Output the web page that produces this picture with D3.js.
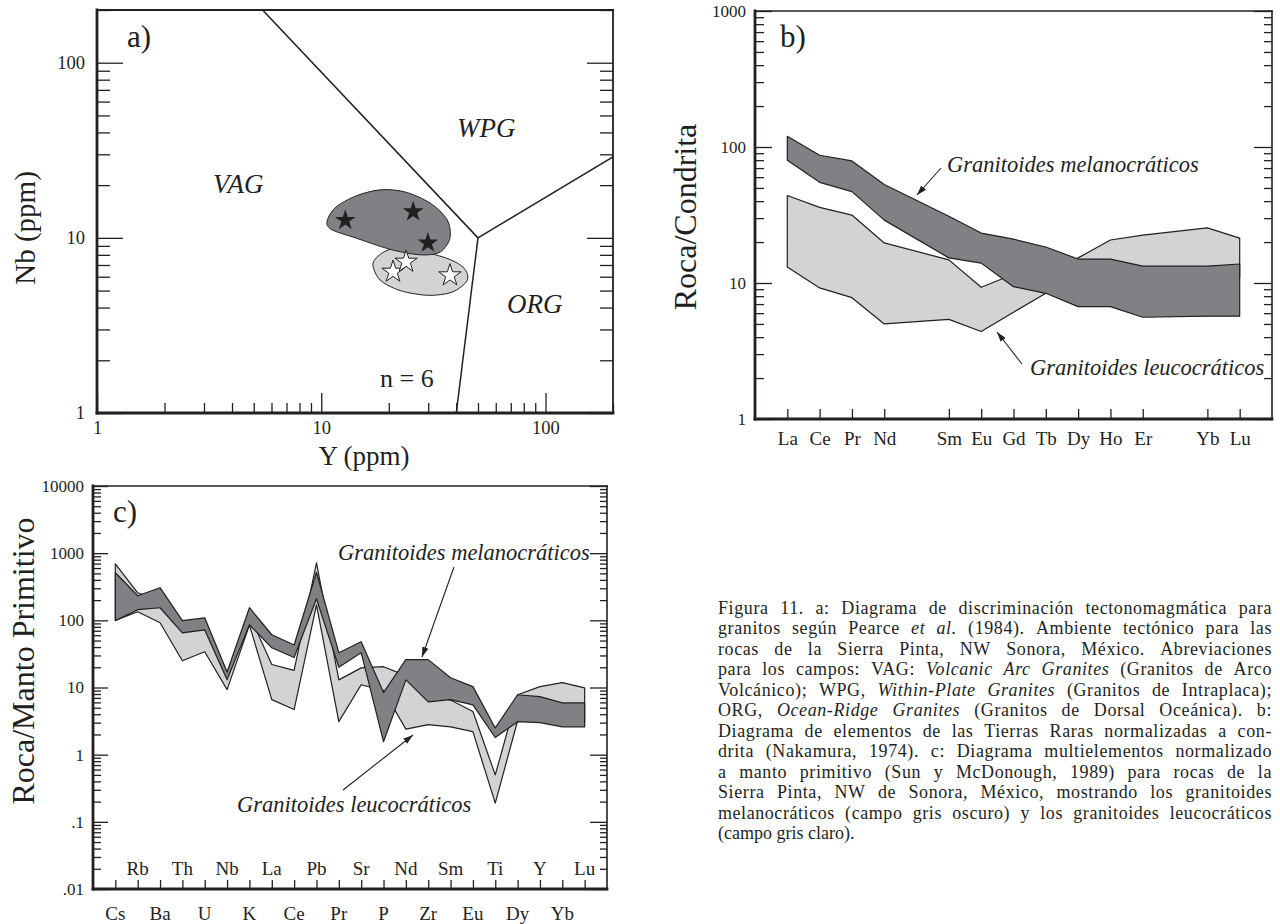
<!DOCTYPE html>
<html>
<meta charset="utf-8">
<head>
<style>
body { margin: 0; background: #fff; }
svg text { font-family: "Liberation Serif", "Times New Roman", serif; fill: #231f20; }
</style>
<script src="https://d3js.org/d3.v7.min.js"></script>
</head>
<body>
<script>
var ink = '#231f20', darkGrey = '#808184', lightGrey = '#d1d3d4';

// ---- a) Nb vs Y, Pearce et al. (1984)
var pearceLines = [
    [[50, 10], [1, 2000]],
    [[50, 10], [1000, 100]],
    [[50, 10], [40, 1]]
];
var fieldNamesA = [
    {t: 'VAG', x: 3.29, y: 18.0},
    {t: 'WPG', x: 40.3, y: 37.7},
    {t: 'ORG', x: 67.4, y: 3.73}
];
// outlines of the two sample fields (Y, Nb)
var melaFieldA = [[10.6,12.3],[11.5,14.8],[14.2,17.3],[18.3,18.8],[23.6,18.3],[30.6,15.8],[36.4,12.7],
                  [37.5,10.0],[33.9,8.3],[27.6,8.0],[20.3,8.6],[14.2,10.0],[11.2,11.1]];
var leucoFieldA = [[17.0,7.1],[18.7,8.2],[21.8,8.75],[27.6,8.4],[36.8,7.6],[43.4,6.7],[44.7,5.7],
                   [38.3,4.9],[29.9,4.7],[22.5,5.0],[18.3,5.75]];
var melaSamplesA = [[12.8,12.6],[25.7,14.1],[29.9,9.35]];
var leucoSamplesA = [[20.9,6.4],[23.9,7.3],[37.5,6.1]];

// ---- b) REE / chondrite
var reeAll = ['La','Ce','Pr','Nd','Pm','Sm','Eu','Gd','Tb','Dy','Ho','Er','Tm','Yb','Lu'];
var reeShown = ['La','Ce','Pr','Nd','Sm','Eu','Gd','Tb','Dy','Ho','Er','Yb','Lu'];
var melaUpperB  = [120, 87, 79, 53, 31, 23.3, 21, 18.4, 15, 15, 13.3, 13.3, 13.8];
var melaLowerB  = [80, 55, 47, 29, 15.3, 14, 9.4, 8.4, 6.7, 6.7, 5.6, 5.7, 5.7];
var leucoUpperB = [44, 36, 31.6, 19.7, 14.8, 9.3, 11.6, 12.9, 15.3, 20.7, 22.5, 25.4, 21.4];
var leucoLowerB = [13.1, 9.2, 7.8, 5.0, 5.4, 4.4, 6.1, 8.4, 10.5, 11, 11, 11, 11];

// ---- c) spider diagram / primitive mantle
var spiderElems = ['Cs','Rb','Ba','Th','U','Nb','K','La','Ce','Pb','Pr','Sr','P','Nd','Zr','Sm','Eu','Ti','Dy','Y','Yb','Lu'];
var melaUpperC  = [511, 232, 306, 99, 109, 17, 154, 61, 43, 520, 33, 48, 8.4, 26, 26, 14, 10.3, 2.5, 7.8, 7.3, 5.9, 5.9];
var melaLowerC  = [99, 144, 154, 65, 72, 13, 86, 39, 28, 210, 20, 33, 1.56, 13, 6.1, 6.6, 5.5, 1.8, 3.1, 3.0, 2.6, 2.6];
var leucoUpperC = [695, 257, 200, 80, 90, 15, 120, 22, 18, 720, 13, 19.6, 20.4, 15, 8, 6.5, 4.4, 0.5, 7.8, 10.3, 11.8, 9.9];
var leucoLowerC = [100, 134, 92, 25, 34, 9.3, 85, 6.6, 4.7, 170, 3.1, 11, 9, 2.4, 2.8, 2.6, 2.2, 0.19, 3.2, 3.2, 3.0, 3.0];

var captionLines = [
    'Figura 11. a: Diagrama de discriminación tectonomagmática para',
    'granitos según Pearce _et al._ (1984). Ambiente tectónico para las',
    'rocas de la Sierra Pinta, NW Sonora, México. Abreviaciones',
    'para los campos: VAG: _Volcanic Arc Granites_ (Granitos de Arco',
    'Volcánico); WPG, _Within-Plate Granites_ (Granitos de Intraplaca);',
    'ORG, _Ocean-Ridge Granites_ (Granitos de Dorsal Oceánica). b:',
    'Diagrama de elementos de las Tierras Raras normalizadas a con-',
    'drita (Nakamura, 1974). c: Diagrama multielementos normalizado',
    'a manto primitivo (Sun y McDonough, 1989) para rocas de la',
    'Sierra Pinta, NW de Sonora, México, mostrando los granitoides',
    'melanocráticos (campo gris oscuro) y los granitoides leucocráticos',
    '(campo gris claro).'
];

var svg = d3.select('body').append('svg').attr('width', 1280).attr('height', 924);
var defs = svg.append('defs');
defs.append('marker').attr('id', 'arrow').attr('viewBox', '0 0 10 10')
    .attr('refX', 10).attr('refY', 5).attr('markerWidth', 10).attr('markerHeight', 10)
    .attr('markerUnits', 'userSpaceOnUse').attr('orient', 'auto')
  .append('path').attr('d', 'M0,1.8 L10,5 L0,8.2 Z').attr('fill', ink);

function logTicks(lo, hi) {
    var major = [], minor = [];
    for (var e = Math.floor(Math.log10(lo)); e <= Math.ceil(Math.log10(hi)); e++) {
        for (var m = 1; m < 10; m++) {
            var v = +(m * Math.pow(10, e)).toPrecision(6);
            if (v < lo * 0.999 || v > hi * 1.001) continue;
            (m === 1 ? major : minor).push(v);
        }
    }
    return {major: major, minor: minor};
}

function styleAxis(a, size) {
    a.select('.domain').remove();
    a.attr('font-family', null).attr('font-size', size).attr('color', ink);
    a.selectAll('line').attr('stroke-width', 1.3);
}

function logAxis(g, scale, orient, pos, majLen, minLen, fmt, size, pad) {
    var t = logTicks(scale.domain()[0], scale.domain()[1]);
    var mk = orient == 'left' ? d3.axisLeft : orient == 'right' ? d3.axisRight : d3.axisBottom;
    var tr = orient == 'bottom' ? 'translate(0,' + pos + ')' : 'translate(' + pos + ',0)';
    var a1 = g.append('g').attr('transform', tr)
        .call(mk(scale).tickValues(t.minor).tickSize(-minLen).tickFormat(''));
    var a2 = g.append('g').attr('transform', tr)
        .call(mk(scale).tickValues(t.major).tickSize(-majLen).tickPadding(pad || 6).tickFormat(fmt || ''));
    styleAxis(a1, size);
    styleAxis(a2, size);
}

function frame(g, x0, x1, y0, y1, thick, thin) {
    var f = g.append('g').attr('stroke', ink).attr('stroke-linecap', 'square');
    f.append('line').attr('x1', x0).attr('x2', x1).attr('y1', y0).attr('y2', y0).attr('stroke-width', thin);
    f.append('line').attr('x1', x1).attr('x2', x1).attr('y1', y0).attr('y2', y1).attr('stroke-width', thin);
    f.append('line').attr('x1', x0).attr('x2', x0).attr('y1', y0).attr('y2', y1).attr('stroke-width', thick);
    f.append('line').attr('x1', x0).attr('x2', x1).attr('y1', y1).attr('y2', y1).attr('stroke-width', thick);
}

function arrow(g, x1, y1, x2, y2) {
    g.append('line').attr('x1', x1).attr('y1', y1).attr('x2', x2).attr('y2', y2)
        .attr('stroke', ink).attr('stroke-width', 1.1).attr('marker-end', 'url(#arrow)');
}

function clip(id, x0, x1, y0, y1) {
    defs.append('clipPath').attr('id', id).append('rect')
        .attr('x', x0).attr('y', y0).attr('width', x1 - x0).attr('height', y1 - y0);
}

function yTitle(g, t, x, y, size) {
    g.append('text').attr('transform', 'translate(' + x + ',' + y + ') rotate(-90)')
        .attr('text-anchor', 'middle').attr('font-size', size).text(t);
}

function italicNote(g, t, x, y) {
    g.append('text').attr('x', x).attr('y', y).attr('font-size', 22.5)
        .attr('font-style', 'italic').text(t);
}

// ================= panel a =================
var gA = svg.append('g');
var xA = d3.scaleLog().domain([1, 200]).range([97, 613]);
var yA = d3.scaleLog().domain([1, 200]).range([413, 10]);
clip('clipA', 97, 613, 10, 413);

var plotA = gA.append('g').attr('clip-path', 'url(#clipA)');
var lineA = d3.line().x(function(d) { return xA(d[0]); }).y(function(d) { return yA(d[1]); });
plotA.selectAll('.pl').data(pearceLines).enter().append('path')
    .attr('d', lineA).attr('fill', 'none').attr('stroke', ink).attr('stroke-width', 1.5);

var blob = d3.line().x(function(d) { return xA(d[0]); }).y(function(d) { return yA(d[1]); })
    .curve(d3.curveCardinalClosed.tension(0.1));
plotA.append('path').attr('d', blob(leucoFieldA)).attr('fill', lightGrey).attr('stroke', ink).attr('stroke-width', 1);
plotA.append('path').attr('d', blob(melaFieldA)).attr('fill', darkGrey).attr('stroke', ink).attr('stroke-width', 1);

var star = d3.symbol().type(d3.symbolStar);
plotA.selectAll('.ms').data(melaSamplesA).enter().append('path')
    .attr('d', star.size(135)())
    .attr('transform', function(d) { return 'translate(' + xA(d[0]) + ',' + yA(d[1]) + ')'; })
    .attr('fill', ink);
plotA.selectAll('.ls').data(leucoSamplesA).enter().append('path')
    .attr('d', star.size(155)())
    .attr('transform', function(d) { return 'translate(' + xA(d[0]) + ',' + yA(d[1]) + ')'; })
    .attr('fill', '#fff').attr('stroke', ink).attr('stroke-width', 1);

gA.selectAll('.fn').data(fieldNamesA).enter().append('text')
    .attr('x', function(d) { return xA(d.x); }).attr('y', function(d) { return yA(d.y); })
    .attr('font-size', 27).attr('font-style', 'italic').text(function(d) { return d.t; });
gA.append('text').attr('x', xA(18.3)).attr('y', yA(1.41)).attr('font-size', 26).text('n = 6');

logAxis(gA, yA, 'left', 97, 26, 13, function(d) { return d; }, 18.5, 12);
logAxis(gA, yA, 'right', 613, 26, 13, '', 18.5);
logAxis(gA, xA, 'bottom', 413, 20, 10, function(d) { return d; }, 18.5, 8);
frame(gA, 97, 613, 10, 413, 2.8, 1.8);
gA.append('text').attr('x', 127).attr('y', 47).attr('font-size', 31).text('a)');
yTitle(gA, 'Nb (ppm)', 35, 228, 29);
gA.append('text').attr('x', 364).attr('y', 465).attr('text-anchor', 'middle').attr('font-size', 27).text('Y (ppm)');

// ================= panel b =================
var gB = svg.append('g');
var xB = d3.scalePoint().domain(reeAll).range([755, 1272]).padding(1);
var yB = d3.scaleLog().domain([1, 1000]).range([419, 11]);
clip('clipB', 755, 1272, 11, 419);
var plotB = gB.append('g').attr('clip-path', 'url(#clipB)');

function band(xs, scaleX, scaleY, up, lo) {
    var rows = xs.map(function(e, i) { return {e: e, u: up[i], l: lo[i]}; });
    return d3.area().x(function(d) { return scaleX(d.e); })
        .y0(function(d) { return scaleY(d.l); }).y1(function(d) { return scaleY(d.u); })(rows);
}
plotB.append('path').attr('d', band(reeShown, xB, yB, leucoUpperB, leucoLowerB))
    .attr('fill', lightGrey).attr('stroke', ink).attr('stroke-width', 1.2).attr('stroke-linejoin', 'round');
plotB.append('path').attr('d', band(reeShown, xB, yB, melaUpperB, melaLowerB))
    .attr('fill', darkGrey).attr('stroke', ink).attr('stroke-width', 1.2).attr('stroke-linejoin', 'round');

logAxis(gB, yB, 'left', 755, 17, 9, function(d) { return d; }, 17, 9);
logAxis(gB, yB, 'right', 1272, 18, 8, '', 17);
var axB = gB.append('g').attr('transform', 'translate(0,419)')
    .call(d3.axisBottom(xB).tickValues(reeShown).tickSize(-10).tickPadding(12.5));
styleAxis(axB, 19);
frame(gB, 755, 1272, 11, 419, 2.8, 1.6);
gB.append('text').attr('x', 780).attr('y', 47).attr('font-size', 31).text('b)');
yTitle(gB, 'Roca/Condrita', 696, 217, 32);
italicNote(gB, 'Granitoides melanocráticos', 947, 172);
arrow(gB, 941, 168, 917, 195);
italicNote(gB, 'Granitoides leucocráticos', 1030, 375);
arrow(gB, 1022, 364, 997, 332);

// ================= panel c =================
var gC = svg.append('g');
var xC = d3.scalePoint().domain(spiderElems).range([93, 607]).padding(1);
var yC = d3.scaleLog().domain([0.01, 10000]).range([889, 486]);
clip('clipC', 93, 607, 486, 889);
var plotC = gC.append('g').attr('clip-path', 'url(#clipC)');
plotC.append('path').attr('d', band(spiderElems, xC, yC, leucoUpperC, leucoLowerC))
    .attr('fill', lightGrey).attr('stroke', ink).attr('stroke-width', 1.2).attr('stroke-linejoin', 'round');
plotC.append('path').attr('d', band(spiderElems, xC, yC, melaUpperC, melaLowerC))
    .attr('fill', darkGrey).attr('stroke', ink).attr('stroke-width', 1.2).attr('stroke-linejoin', 'round');

logAxis(gC, yC, 'left', 93, 15, 8, function(d) { return d < 1 ? String(d).replace(/^0/, '') : d; }, 17, 9);
logAxis(gC, yC, 'right', 607, 17, 7, '', 17);
var axC = gC.append('g').attr('transform', 'translate(0,889)')
    .call(d3.axisBottom(xC).tickSize(-9).tickFormat(''));
styleAxis(axC, 19);
gC.selectAll('.el').data(spiderElems).enter().append('text')
    .attr('x', function(d) { return xC(d); })
    .attr('y', function(d, i) { return i % 2 ? 875 : 920; })
    .attr('text-anchor', 'middle').attr('font-size', 19).text(function(d) { return d; });
frame(gC, 93, 607, 486, 889, 2.8, 1.6);
gC.append('text').attr('x', 113).attr('y', 522).attr('font-size', 31).text('c)');
yTitle(gC, 'Roca/Manto Primitivo', 34, 661, 32);
italicNote(gC, 'Granitoides melanocráticos', 338, 560);
arrow(gC, 454, 567, 422, 657);
italicNote(gC, 'Granitoides leucocráticos', 237, 812);
arrow(gC, 343, 790, 413, 735);

// ================= caption (justified) =================
function parseWords(line) {
    var words = [], cur = [], it = false, buf = '';
    function flush() { if (buf) { cur.push({t: buf, it: it}); buf = ''; } }
    Array.from(line).forEach(function(ch) {
        if (ch == '_') { flush(); it = !it; }
        else if (ch == ' ') { flush(); if (cur.length) words.push(cur); cur = []; }
        else buf += ch;
    });
    flush();
    if (cur.length) words.push(cur);
    return words;
}

var cap = svg.append('g').attr('font-size', 18);
var capX = 718, capW = 554, capY = 614, capLH = 20.45;
captionLines.forEach(function(line, li) {
    var words = parseWords(line);
    var last = li == captionLines.length - 1;
    var y = capY + li * capLH;
    function build(ls) {
        return words.map(function(w) {
            var t = cap.append('text').attr('y', y).attr('letter-spacing', ls);
            w.forEach(function(run) {
                t.append('tspan').attr('font-style', run.it ? 'italic' : null).text(run.t);
            });
            return t;
        });
    }
    var nodes = build(0);
    var widths = nodes.map(function(n) { return n.node().getComputedTextLength(); });
    var ls = 0;
    if (!last) {
        // share part of the extra room between the letters, like a typesetter would
        var chars = d3.sum(words, function(w) { return d3.sum(w, function(r) { return r.t.length; }); });
        var extra = capW - d3.sum(widths) - 4.5 * (words.length - 1);
        ls = Math.max(0, Math.min(0.6, 0.45 * extra / chars));
        nodes.forEach(function(n) { n.remove(); });
        nodes = build(ls);
        widths = nodes.map(function(n) { return n.node().getComputedTextLength(); });
    }
    var gap = last ? 4.5 : (capW - d3.sum(widths)) / (words.length - 1);
    var x = capX;
    nodes.forEach(function(n, i) {
        n.attr('x', x);
        x += widths[i] + gap;
    });
});
</script>
</body>
</html>
